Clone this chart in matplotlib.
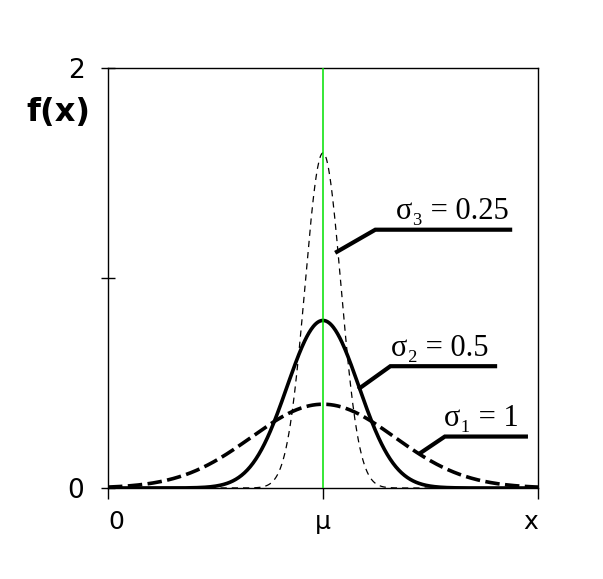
import numpy as np
import matplotlib
matplotlib.use("Agg")
import matplotlib.pyplot as plt

# normal densities, mean mu, three spreads
mu = 3.0
sigmas = [0.25, 0.5, 1.0]
labels = ["σ₃ = 0.25", "σ₂ = 0.5", "σ₁ = 1"]
x_range = [0.0, 6.0]
y_ticks = [0, 1, 2]
y_ticklabels = ["0", "", "2"]
x_ticklabels = ["0", "μ", "x"]

styles = [dict(color="black", lw=0.9, ls=(0, (5, 4))),
          dict(color="black", lw=2.6, ls="-"),
          dict(color="black", lw=2.6, ls=(0, (4, 1.5)))]
# leader lines: (start, elbow, end) in data coords, plus where the text baseline starts
leaders = [((3.17, 1.12), (3.73, 1.23), (5.64, 1.23)),
           ((3.49, 0.47), (3.94, 0.58), (5.43, 0.58)),
           ((4.33, 0.16), (4.70, 0.245), (5.86, 0.245))]
text_at = [(4.02, 1.28), (3.95, 0.628), (4.69, 0.295)]

fig = plt.figure(figsize=(6.03, 5.79), dpi=100)
ax = fig.add_axes([108/603, 91/579, 430/603, 420/579])

xs = np.linspace(x_range[0], x_range[1], 600)
for s, st in zip(sigmas, styles):
    ax.plot(xs, np.exp(-0.5*((xs - mu)/s)**2) / (s*np.sqrt(2*np.pi)), **st)
ax.axvline(mu, color="#00e000", lw=1.1, zorder=3)

for (p0, p1, p2), (tx, ty), lab in zip(leaders, text_at, labels):
    ax.plot([p0[0], p1[0], p2[0]], [p0[1], p1[1], p2[1]], color="black", lw=3,
            solid_capstyle="butt", solid_joinstyle="miter", clip_on=False)
    ax.text(tx, ty, lab, fontsize=22, ha="left", va="baseline",
            family=["Liberation Serif", "DejaVu Serif"])

ax.set_xlim(*x_range); ax.set_ylim(0, 2)
ax.set_yticks(y_ticks); ax.set_yticklabels(y_ticklabels, fontsize=19)
ax.set_xticks([x_range[0], mu, x_range[1]]); ax.set_xticklabels(x_ticklabels, fontsize=18)
xl = ax.get_xticklabels()
xl[0].set_ha("left"); xl[2].set_ha("right")
ax.tick_params(axis="y", direction="inout", length=10, width=1, pad=12)
ax.tick_params(axis="x", direction="out", length=8, width=1, pad=8)
for sp in ax.spines.values():
    sp.set_linewidth(1)
fig.text(58/603, 1 - 113/579, "f(x)", fontsize=23, fontweight="bold",
         ha="center", va="center")
fig.savefig("out.png", dpi=100)
